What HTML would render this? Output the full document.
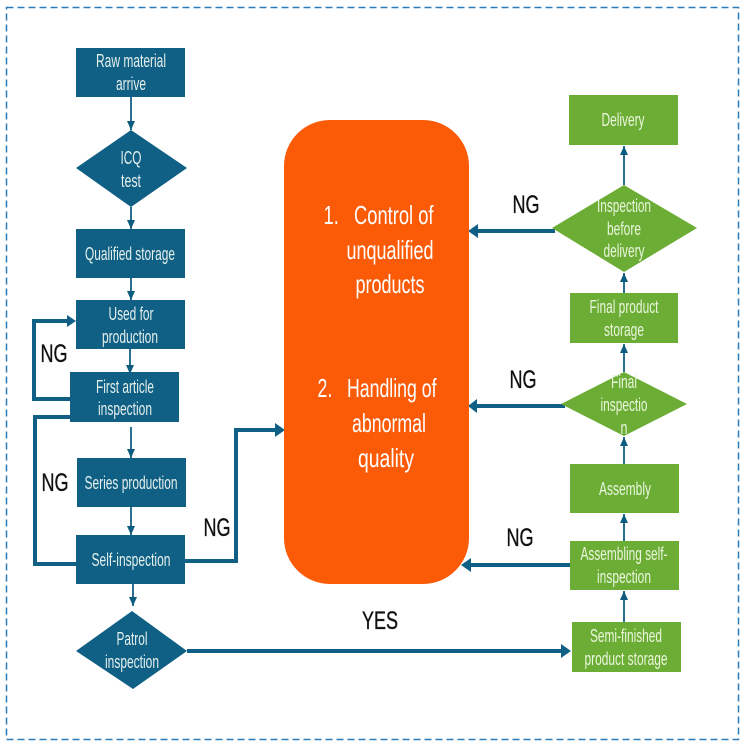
<!DOCTYPE html>
<html><head><meta charset="utf-8"><style>
html,body{margin:0;padding:0;background:#fff}
svg{display:block}
text{font-family:"Liberation Sans",sans-serif;text-anchor:middle}
.w{fill:#e4f0ec;font-size:18px}
.g{fill:#eaf5dc;font-size:18px}
.n{fill:#111;font-size:25px;stroke:#111;stroke-width:.35px}
.o{fill:#fff;font-size:26px}
</style></head><body>
<svg width="750" height="750" viewBox="0 0 750 750" xmlns="http://www.w3.org/2000/svg">
<rect x="0" y="0" width="750" height="750" fill="#fff"/>
<rect x="6.5" y="7.5" width="732" height="732" fill="none" stroke="#2b7cb8" stroke-width="1.5" stroke-dasharray="7 4"/>
<defs>
<marker id="a" markerUnits="userSpaceOnUse" markerWidth="12" markerHeight="12" refX="9" refY="4" orient="auto"><path d="M0 0L9 4L0 8z" fill="#0e5c80"/></marker>
</defs>
<g fill="none" stroke="#105f85" stroke-width="1.8">
<path d="M131 97V130" marker-end="url(#a)"/>
<path d="M131 207V229" marker-end="url(#a)"/>
<path d="M131 278V300" marker-end="url(#a)"/>
<path d="M130 349V374" marker-end="url(#a)"/>
<path d="M131 427V458" marker-end="url(#a)"/>
<path d="M131 507V535" marker-end="url(#a)"/>
<path d="M133 584V606" marker-end="url(#a)"/>
<path d="M624 185V146" marker-end="url(#a)"/>
<path d="M624 293V273" marker-end="url(#a)"/>
<path d="M624 372V344" marker-end="url(#a)"/>
<path d="M624 464V437" marker-end="url(#a)"/>
<path d="M624 541V514" marker-end="url(#a)"/>
<path d="M624 622V591" marker-end="url(#a)"/>
</g>
<g fill="none" stroke="#105f85" stroke-width="4">
<path d="M70 399H34V321H68"/>
<path d="M70 417H35V564H76"/>
<path d="M185 561H236V430H276"/>
<path d="M187 651H562"/>
<path d="M555 231H477"/>
<path d="M565 406H477"/>
<path d="M570 565H470"/>
</g>
<g fill="#105f85">
<path d="M76 321L67 315V327z"/>
<path d="M285 430L275 423V437z"/>
<path d="M571 651L561 644V658z"/>
<path d="M468 231L478 224V238z"/>
<path d="M468 406L477 399V413z"/>
<path d="M461 565L471 558V572z"/>
<rect x="76" y="48" width="109" height="49"/>
<path d="M76 168L131 130L187 168L131 207z"/>
<rect x="76" y="229" width="109" height="49"/>
<rect x="76" y="300" width="109" height="49"/>
<rect x="70" y="372" width="109" height="50"/>
<rect x="77" y="458" width="109" height="49"/>
<rect x="76" y="535" width="109" height="49"/>
<path d="M76 651L132 611L187 651L133 689z"/>
</g>
<g fill="#6cae35">
<rect x="569" y="95" width="109" height="50"/>
<path d="M552 228L624 185L697 228L624 272z"/>
<rect x="570" y="293" width="108" height="50"/>
<path d="M561 404L624 372L687 404L624 436z"/>
<rect x="570" y="464" width="109" height="49"/>
<rect x="570" y="541" width="109" height="49"/>
<rect x="572" y="622" width="109" height="50"/>
</g>
<rect x="284" y="120" width="185" height="464" rx="46" ry="46" fill="#fb5a07"/>
<g>
<text class="w" x="131" y="67" textLength="70" lengthAdjust="spacingAndGlyphs">Raw material</text>
<text class="w" x="131" y="90" textLength="30" lengthAdjust="spacingAndGlyphs">arrive</text>
<text class="w" x="131" y="164" textLength="21" lengthAdjust="spacingAndGlyphs">ICQ</text>
<text class="w" x="131" y="187" textLength="20" lengthAdjust="spacingAndGlyphs">test</text>
<text class="w" x="130" y="260" textLength="90" lengthAdjust="spacingAndGlyphs">Qualified storage</text>
<text class="w" x="131" y="320" textLength="45" lengthAdjust="spacingAndGlyphs">Used for</text>
<text class="w" x="130" y="343" textLength="56" lengthAdjust="spacingAndGlyphs">production</text>
<text class="w" x="125" y="393" textLength="58" lengthAdjust="spacingAndGlyphs">First article</text>
<text class="w" x="125" y="415" textLength="54" lengthAdjust="spacingAndGlyphs">inspection</text>
<text class="w" x="131" y="489" textLength="93" lengthAdjust="spacingAndGlyphs">Series production</text>
<text class="w" x="131" y="566" textLength="79" lengthAdjust="spacingAndGlyphs">Self-inspection</text>
<text class="w" x="132" y="645" textLength="31" lengthAdjust="spacingAndGlyphs">Patrol</text>
<text class="w" x="132" y="668" textLength="54" lengthAdjust="spacingAndGlyphs">inspection</text>
</g>
<g>
<text class="g" x="623" y="126" textLength="43" lengthAdjust="spacingAndGlyphs">Delivery</text>
<text class="g" x="624" y="212" textLength="54" lengthAdjust="spacingAndGlyphs">Inspection</text>
<text class="g" x="624" y="235" textLength="34" lengthAdjust="spacingAndGlyphs">before</text>
<text class="g" x="624" y="257" textLength="41" lengthAdjust="spacingAndGlyphs">delivery</text>
<text class="g" x="624" y="313" textLength="69" lengthAdjust="spacingAndGlyphs">Final product</text>
<text class="g" x="624" y="336" textLength="40" lengthAdjust="spacingAndGlyphs">storage</text>
<text class="g" x="624" y="388" textLength="26" lengthAdjust="spacingAndGlyphs">Final</text>
<text class="g" x="624" y="411" textLength="47" lengthAdjust="spacingAndGlyphs">inspectio</text>
<text class="g" x="624" y="434" textLength="7" lengthAdjust="spacingAndGlyphs">n</text>
<text class="g" x="625" y="495" textLength="52" lengthAdjust="spacingAndGlyphs">Assembly</text>
<text class="g" x="624" y="560" textLength="87" lengthAdjust="spacingAndGlyphs">Assembling self-</text>
<text class="g" x="624" y="583" textLength="54" lengthAdjust="spacingAndGlyphs">inspection</text>
<text class="g" x="626" y="642" textLength="72" lengthAdjust="spacingAndGlyphs">Semi-finished</text>
<text class="g" x="626" y="665" textLength="83" lengthAdjust="spacingAndGlyphs">product storage</text>
</g>
<g>
<text class="n" x="54" y="362" textLength="27" lengthAdjust="spacingAndGlyphs">NG</text>
<text class="n" x="55" y="491" textLength="27" lengthAdjust="spacingAndGlyphs">NG</text>
<text class="n" x="217" y="536" textLength="27" lengthAdjust="spacingAndGlyphs">NG</text>
<text class="n" x="526" y="213" textLength="27" lengthAdjust="spacingAndGlyphs">NG</text>
<text class="n" x="523" y="388" textLength="27" lengthAdjust="spacingAndGlyphs">NG</text>
<text class="n" x="520" y="546" textLength="27" lengthAdjust="spacingAndGlyphs">NG</text>
<text class="n" x="380" y="629" textLength="36" lengthAdjust="spacingAndGlyphs">YES</text>
</g>
<g>
<text class="o" x="378.5" y="224" textLength="110" lengthAdjust="spacingAndGlyphs">1.&#160;&#160;&#160;Control of</text>
<text class="o" x="390" y="259" textLength="87" lengthAdjust="spacingAndGlyphs">unqualified</text>
<text class="o" x="390" y="293" textLength="69" lengthAdjust="spacingAndGlyphs">products</text>
<text class="o" x="377" y="397" textLength="119" lengthAdjust="spacingAndGlyphs">2.&#160;&#160;&#160;Handling of</text>
<text class="o" x="389" y="432" textLength="74" lengthAdjust="spacingAndGlyphs">abnormal</text>
<text class="o" x="386" y="467" textLength="56" lengthAdjust="spacingAndGlyphs">quality</text>
</g>
</svg>
</body></html>
